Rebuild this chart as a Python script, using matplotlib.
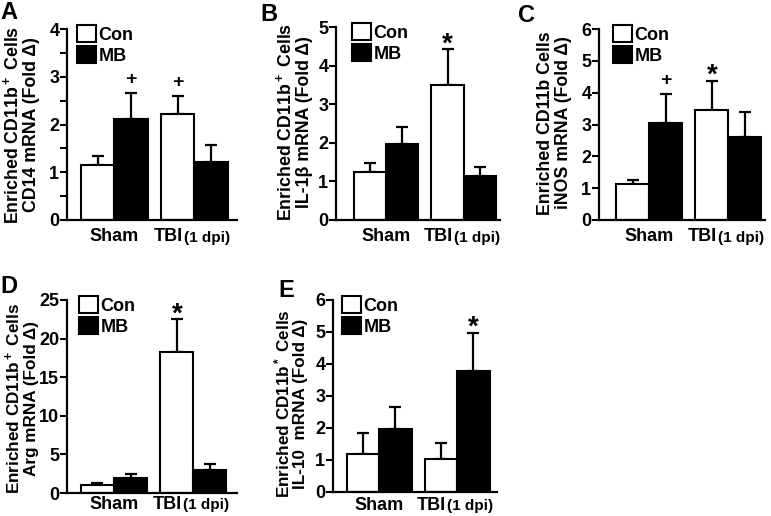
import matplotlib
matplotlib.use('Agg')
import matplotlib.pyplot as plt
from matplotlib.patches import Patch

plt.rcParams['font.family'] = ['Liberation Sans', 'DejaVu Sans']
plt.rcParams['font.weight'] = 'bold'
plt.rcParams['mathtext.fontset'] = 'custom'
plt.rcParams['mathtext.rm'] = 'Liberation Sans:bold'
plt.rcParams['mathtext.bf'] = 'Liberation Sans:bold'
plt.rcParams['mathtext.it'] = 'Liberation Sans:bold'

groups = ['Sham', 'TBI']
series = ['Con', 'MB']

# mean values [Sham Con, Sham MB, TBI Con, TBI MB] and upper error bar lengths
cd14 = [1.15, 2.12, 2.23, 1.22]
cd14_err = [0.18, 0.53, 0.37, 0.35]
il1b = [1.25, 1.98, 3.50, 1.13]
il1b_err = [0.23, 0.42, 0.92, 0.25]
inos = [1.12, 3.05, 3.45, 2.60]
inos_err = [0.15, 0.92, 0.93, 0.78]
arg = [1.1, 1.9, 18.3, 3.0]
arg_err = [0.2, 0.6, 4.2, 0.7]
il10 = [1.20, 1.97, 1.02, 3.77]
il10_err = [0.63, 0.68, 0.50, 1.20]

# significance marks: (bar index, symbol)
cd14_sig = [(1, '+'), (2, '+')]
il1b_sig = [(2, '*')]
inos_sig = [(1, '+'), (2, '*')]
arg_sig = [(2, '*')]
il10_sig = [(3, '*')]

panels = [
    ('A', 'Enriched CD11b$^+$ Cells\nCD14 mRNA (Fold \u0394)', cd14, cd14_err, cd14_sig, 4, 1, True),
    ('B', 'Enriched CD11b$^+$ Cells\nIL-1\u03b2 mRNA (Fold \u0394)', il1b, il1b_err, il1b_sig, 5, 1, False),
    ('C', 'Enriched CD11b Cells\niNOS mRNA (Fold \u0394)', inos, inos_err, inos_sig, 6, 1, False),
    ('D', 'Enriched CD11b$^+$ Cells\nArg mRNA (Fold \u0394)', arg, arg_err, arg_sig, 25, 5, False),
    ('E', 'Enriched CD11b$^*$ Cells\nIL-10  mRNA (Fold \u0394)', il10, il10_err, il10_sig, 6, 1, False),
]

# axes rectangles in pixels (left, right, bottom, top), xlims in bar widths,
# legend offset, group label offset, panel letter position,
# y label (offset from spine, vertical center, font size)
boxes = [
    (67, 237, 220, 29, -1.42, 3.68, 10, 12, (0, 1), (-27, 124.5, 12.8)),
    (336, 500, 220, 27, -1.54, 3.51, 16, 12, (260, 3), (-23, 122, 12.8)),
    (599, 765, 220, 29, -1.52, 3.51, 14, 12, (518, 4), (-27, 123, 12.8)),
    (67, 237, 493, 300, -1.42, 3.72, 12, 8, (0, 275), (-28, 398.5, 12.3)),
    (333, 497, 492, 300, -1.42, 3.63, 9, 9.5, (278, 279), (-25, 404, 12.3)),
]

W, H = 771, 516
fig = plt.figure(figsize=(W / 100, H / 100), dpi=100)

for (letter, ylab, vals, errs, sigs, ymax, step, minor), (l, r, b, t, x0, x1, leg, lab, pos, yl) in zip(panels, boxes):
    ax = fig.add_axes([l / W, 1 - b / H, (r - l) / W, (b - t) / H])
    gap = 2.4
    xs = [-0.5, 0.5, gap - 0.5, gap + 0.5]
    colors = ['white', 'black', 'white', 'black']
    ax.bar(xs, vals, width=1.0, color=colors, edgecolor='black', linewidth=1.5, zorder=2)
    ax.errorbar(xs, vals, yerr=[[0] * 4, errs], fmt='none', ecolor='black',
                elinewidth=1.6, capsize=4, capthick=1.6, zorder=1)
    for i, sym in sigs:
        top = vals[i] + errs[i]
        if sym == '+':
            ax.annotate('+', (xs[i], top), xytext=(0, 6.5), textcoords='offset points',
                        ha='center', va='baseline', fontsize=14, fontweight='bold')
        else:
            ax.annotate('*', (xs[i], top), xytext=(0, -1.5), textcoords='offset points',
                        ha='center', va='baseline', fontsize=20, fontweight='bold')

    ax.set_xlim(x0, x1)
    ax.set_ylim(0, ymax)
    ax.set_yticks(range(0, ymax + 1, step))
    if minor:
        ax.set_yticks([i + 0.5 for i in range(ymax)], minor=True)
        ax.tick_params(axis='y', which='minor', length=5, width=1.5, direction='out')
    ax.tick_params(axis='y', which='major', length=5, width=1.5, direction='out',
                   labelsize=13, pad=0.5)
    ax.set_xticks([])
    for s in ['top', 'right']:
        ax.spines[s].set_visible(False)
    for s in ['left', 'bottom']:
        ax.spines[s].set_linewidth(1.6)

    ax.set_ylabel(ylab, fontsize=yl[2], fontweight='bold', linespacing=1.05)
    ax.yaxis.set_label_coords(yl[0] / (r - l), 1 - (yl[1] - t) / (b - t))

    # group labels
    ax.annotate('Sham', (0, 0), xycoords=('data', 'axes fraction'), xytext=(0, -lab),
                textcoords='offset points', ha='center', va='center', fontsize=13, fontweight='bold')
    ax.annotate('TBI', (gap - 0.35, 0), xycoords=('data', 'axes fraction'), xytext=(0, -lab),
                textcoords='offset points', ha='right', va='center', fontsize=13, fontweight='bold')
    ax.annotate('(1 dpi)', (gap - 0.3, 0), xycoords=('data', 'axes fraction'), xytext=(0, -lab - 0.8),
                textcoords='offset points', ha='left', va='center', fontsize=11, fontweight='bold')

    handles = [Patch(facecolor='white', edgecolor='black', linewidth=1.5),
               Patch(facecolor='black', edgecolor='black', linewidth=1.5)]
    ax.legend(handles, series, loc='upper left', bbox_to_anchor=(leg / (r - l), 1.02),
              frameon=False, handlelength=1.05, handleheight=1.05,
              handletextpad=0.15, labelspacing=0.15, borderpad=0, borderaxespad=0,
              prop={'weight': 'bold', 'size': 13})

    fig.text(pos[0] / W, 1 - pos[1] / H, letter, fontsize=17, fontweight='bold', ha='left', va='top')

fig.savefig('out.png', dpi=100)
